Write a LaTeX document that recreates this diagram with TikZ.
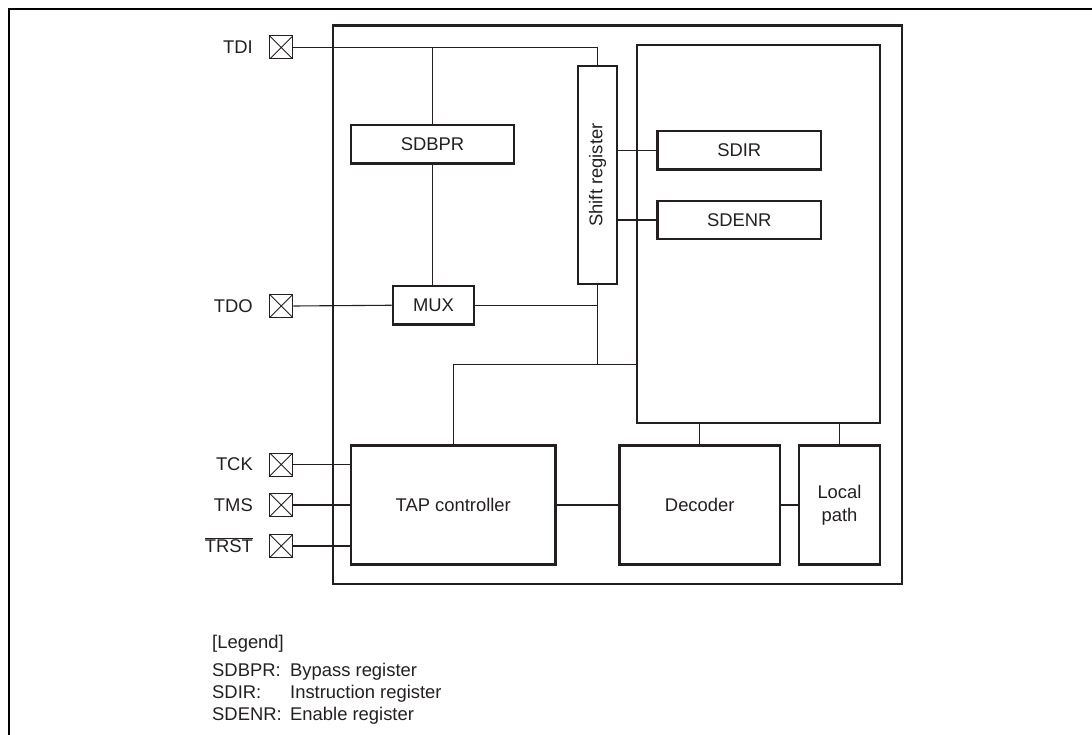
\documentclass[tikz,border=0pt]{standalone}
\usepackage{fontspec}
\setmainfont{Liberation Sans}
\definecolor{ink}{HTML}{231F20}
\newcommand\diafont{\fontsize{18.4}{23}\selectfont}
\begin{document}
\begin{tikzpicture}[x=1pt,y=-1pt,
  box/.style={draw=ink,line width=2.2pt,rectangle,inner sep=0pt,font=\diafont,text=ink,align=center},
  wire/.style={draw=ink,line width=1.1pt},
  pin/.style={draw=ink,line width=1pt,rectangle,minimum width=23pt,minimum height=23pt,inner sep=0pt,
    path picture={\draw[ink,line width=1pt] (path picture bounding box.south west) -- (path picture bounding box.north east)
      (path picture bounding box.north west) -- (path picture bounding box.south east);}},
  lbl/.style={font=\diafont,text=ink,inner sep=0pt,anchor=east},
  leg/.style={font=\diafont,text=ink,inner sep=0pt,anchor=base west}]
\useasboundingbox (0,0) rectangle (1092,735);
% page frame
\draw[black,line width=2.4pt] (9,737) -- (9,9) -- (1094,9);
% blocks
\node[box,minimum width=569pt,minimum height=558.5pt] (main) at (617.5,304.75) {};
\node[box,minimum width=243pt,minimum height=378pt] (inner) at (758.5,234) {};
\node[box,minimum width=163.5pt,minimum height=38.5pt] (sdir) at (739.25,150.25) {SDIR};
\node[box,minimum width=163.5pt,minimum height=38pt] (sdenr) at (739.25,220) {SDENR};
\node[box,minimum width=163pt,minimum height=38.5pt] (sdbpr) at (432.5,144.25) {SDBPR};
\node[box,minimum width=81.5pt,minimum height=38.5pt] (mux) at (433.5,305.25) {MUX};
\node[box,minimum width=39pt,minimum height=218pt] (shift) at (597.5,175) {};
\node[font=\diafont,text=ink,rotate=90,inner sep=0pt] (shiftlbl) at (597.5,175) {Shift register};
\node[box,minimum width=204.5pt,minimum height=119pt] (tap) at (453.25,505) {TAP controller};
\node[box,minimum width=160.5pt,minimum height=119pt] (dec) at (699.75,505) {Decoder};
\node[box,minimum width=81pt,minimum height=119pt] (local) at (839.5,505) {Local\\path};
% pins
\node[pin] (tdi) at (281.25,47.5) {};
\node[pin] (tdo) at (281.25,306) {};
\node[pin] (tck) at (281.25,464.5) {};
\node[pin] (tms) at (281.25,505) {};
\node[pin] (trst) at (281.25,546) {};
\node[lbl] (tdil) at (253,47.5) {TDI};
\node[lbl] (tdol) at (253,306) {TDO};
\node[lbl] (tckl) at (253,464.5) {TCK};
\node[lbl] (tmsl) at (253,505) {TMS};
\node[lbl] (trstl) at (253,545) {$\overline{\hbox{TRST}}$};
% connectors
\coordinate (j) at (597.5,364.5);
\draw[wire] (tdi.east) -| (shift.north);
\draw[wire] (sdbpr.north) -- (sdbpr.north |- tdi.east);
\draw[wire] (sdbpr.south) -- (mux.north -| sdbpr.south);
\draw[wire] (tdo.east) -- (mux.west);
\draw[wire] (mux.east) -- (mux.east -| shift.south);
\draw[wire] (shift.south) -- (j);
\draw[wire] (tap.north) |- (inner.west |- j);
\draw[wire] (shift.east |- sdir.west) -- (sdir.west);
\draw[wire] (shift.east |- sdenr.west) -- (sdenr.west);
\draw[wire] (dec.north) -- (dec.north |- inner.south);
\draw[wire] (local.north) -- (local.north |- inner.south);
\draw[wire] (tap.east) -- (dec.west);
\draw[wire] (dec.east) -- (local.west);
\draw[wire] (tck.east) -- (tck.east -| tap.west);
\draw[wire] (tms.east) -- (tms.east -| tap.west);
\draw[wire] (trst.east) -- (trst.east -| tap.west);
% legend
\node[leg] (legh) at (212,648) {[Legend]};
\node[leg] (k1) at (212,676) {SDBPR:};
\node[leg] (d1) at (290,676) {Bypass register};
\node[leg] (k2) at (212,698) {SDIR:};
\node[leg] (d2) at (290,698) {Instruction register};
\node[leg] (k3) at (212,720) {SDENR:};
\node[leg] (d3) at (290,720) {Enable register};
\end{tikzpicture}
\end{document}
